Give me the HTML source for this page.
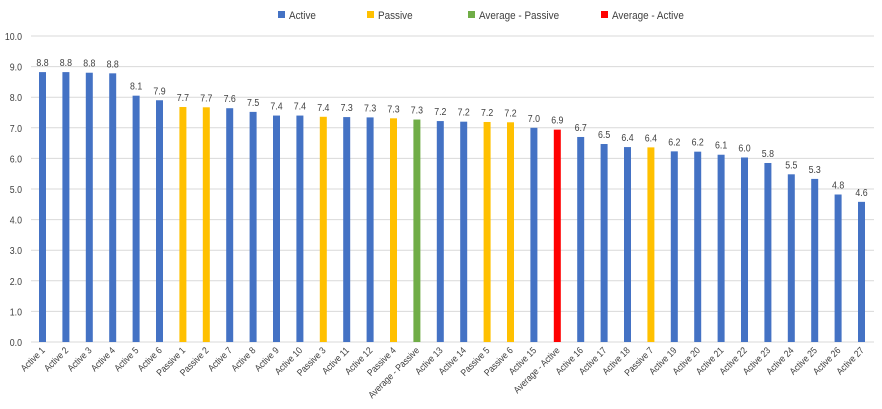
<!DOCTYPE html>
<html><head><style>body{margin:0;background:#fff}svg{display:block;font-family:"Liberation Sans",sans-serif}</style></head><body>
<svg id="c" width="882" height="409" xmlns="http://www.w3.org/2000/svg"></svg>
<script>
const d=[["Active 1",8.82,"A"],["Active 2",8.82,"A"],["Active 3",8.8,"A"],["Active 4",8.78,"A"],["Active 5",8.05,"A"],["Active 6",7.9,"A"],["Passive 1",7.68,"P"],["Passive 2",7.67,"P"],["Active 7",7.64,"A"],["Active 8",7.52,"A"],["Active 9",7.4,"A"],["Active 10",7.4,"A"],["Passive 3",7.36,"P"],["Active 11",7.35,"A"],["Active 12",7.34,"A"],["Passive 4",7.31,"P"],["Average - Passive",7.27,"G"],["Active 13",7.22,"A"],["Active 14",7.2,"A"],["Passive 5",7.19,"P"],["Passive 6",7.18,"P"],["Active 15",7.0,"A"],["Average - Active",6.94,"R"],["Active 16",6.7,"A"],["Active 17",6.47,"A"],["Active 18",6.37,"A"],["Passive 7",6.36,"P"],["Active 19",6.23,"A"],["Active 20",6.22,"A"],["Active 21",6.12,"A"],["Active 22",6.03,"A"],["Active 23",5.85,"A"],["Active 24",5.48,"A"],["Active 25",5.33,"A"],["Active 26",4.82,"A"],["Active 27",4.58,"A"]];
const col={A:"#4472C4",P:"#FFC000",G:"#70AD47",R:"#FF0000"};
const y=v=>342-30.6*v;let s="";
for(let i=0;i<=10;i++){const yy=y(i);s+=`<line x1="31" x2="874" y1="${yy}" y2="${yy}" stroke="#d9d9d9" stroke-width="1"/><text transform="translate(22,${yy+4}) scale(0.88,1)" font-size="10" fill="#404040" text-anchor="end">${i.toFixed(1)}</text>`;}
d.forEach((r,i)=>{const cx=42.5+i*23.4;s+=`<rect x="${cx-3.5}" y="${y(r[1])}" width="7" height="${342-y(r[1])}" fill="${col[r[2]]}"/>`;
s+=`<text transform="translate(${cx},${y(r[1])-6}) scale(0.88,1)" font-size="10" fill="#404040" text-anchor="middle">${r[1].toFixed(1)}</text>`;
s+=`<text transform="translate(${cx+3},${351}) rotate(-45) scale(0.88,1)" font-size="9.5" fill="#404040" text-anchor="end">${r[0]}</text>`;});
const lg=[["Active","A",278],["Passive","P",367],["Average - Passive","G",468],["Average - Active","R",601]];
lg.forEach(l=>{s+=`<rect x="${l[2]}" y="11" width="7" height="7" fill="${col[l[1]]}"/><text transform="translate(${l[2]+11},19) scale(0.9,1)" font-size="11" fill="#404040">${l[0]}</text>`;});
document.getElementById("c").innerHTML=s;
</script>
</body></html>
